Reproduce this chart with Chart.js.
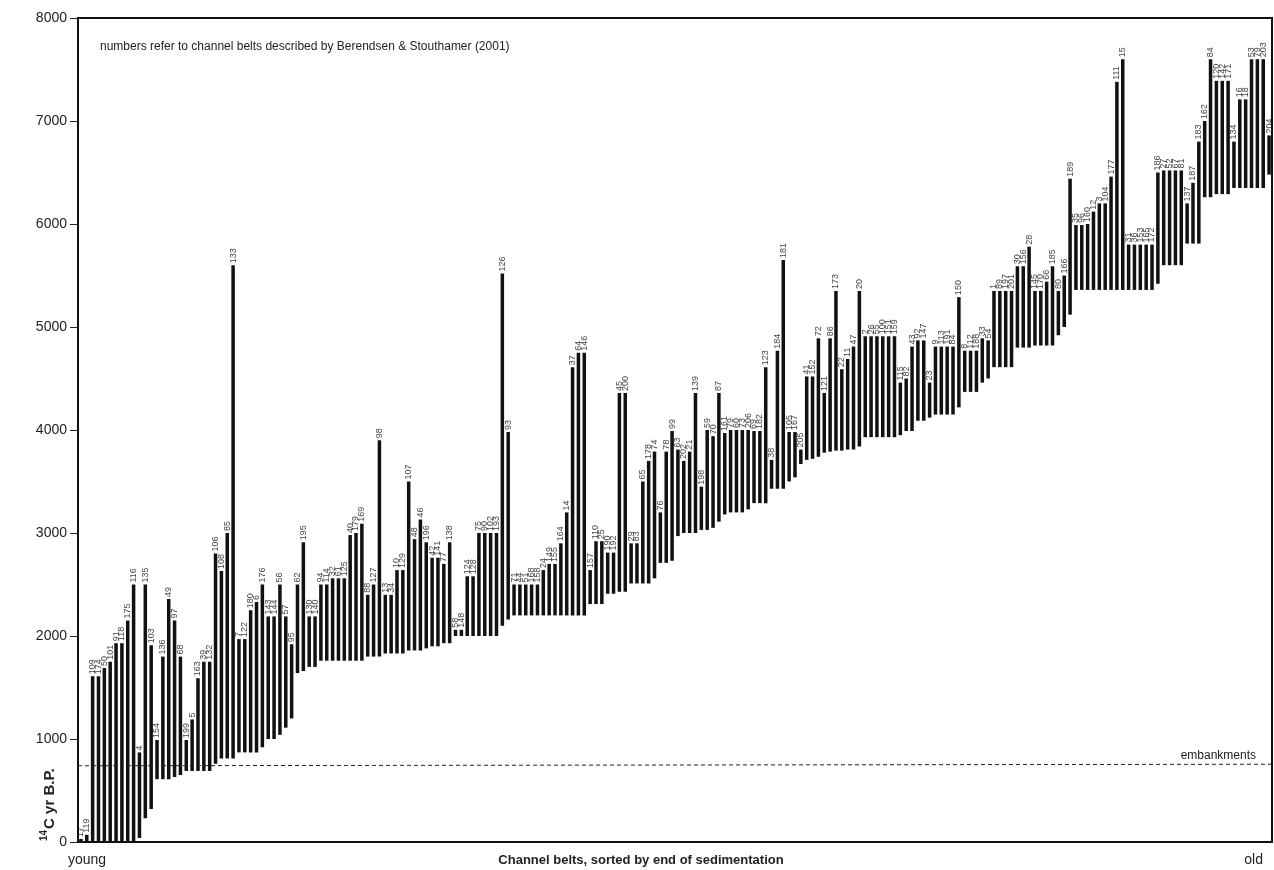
<!DOCTYPE html>
<html>
<head>
<meta charset="utf-8">
<title>Channel belts</title>
<script src="https://cdn.jsdelivr.net/npm/chart.js@4.4.1/dist/chart.umd.min.js"></script>
<style>
    html, body { margin: 0; padding: 0; background: #fff; }
    #wrap { width: 1274px; height: 870px; position: relative; }
</style>
</head>
<body>
<div id="wrap"><canvas id="beltChart" width="1274" height="870"></canvas></div>
<script>
// channel belt numbers, left (young) to right (old)
const beltLabels = [
    "17", "119", "109", "174", "50", "101", "91", "118", "175", "116",
    "4", "135", "103", "154", "136", "49", "97", "68", "199", "5",
    "163", "39", "132", "106", "108", "85", "133", "7", "122", "180",
    "6", "176", "143", "144", "56", "57", "95", "62", "195", "130",
    "140", "94", "114", "32", "61", "125", "40", "179", "169", "88",
    "127", "98", "13", "34", "10", "129", "107", "48", "46", "196",
    "42", "141", "77", "138", "58", "148", "124", "128", "75", "90",
    "102", "193", "126", "93", "71", "44", "51", "168", "158", "24",
    "149", "155", "164", "14", "37", "64", "146", "157", "110", "25",
    "190", "192", "45", "200", "29", "83", "65", "178", "74", "76",
    "78", "99", "63", "202", "21", "139", "198", "59", "70", "87",
    "161", "79", "60", "73", "206", "69", "182", "123", "38", "184",
    "181", "105", "167", "205", "41", "152", "72", "121", "86", "173",
    "22", "11", "47", "20", "2", "26", "55", "100", "151", "159",
    "115", "82", "43", "92", "147", "23", "9", "113", "191", "84",
    "150", "8", "112", "188", "33", "54", "1", "89", "197", "201",
    "30", "156", "28", "145", "170", "66", "185", "80", "166", "189",
    "35", "96", "160", "12", "3", "104", "177", "111", "15", "31",
    "36", "153", "165", "172", "186", "27", "52", "67", "81", "137",
    "187", "183", "162", "84", "120", "142", "171", "134", "16", "18",
    "53", "79", "203", "204"
];

// start of sedimentation (14C yr B.P., young end of bar)
const beltLow = [
    0, 0, 0, 0, 0, 0, 0, 0, 0, 0,
    40, 230, 320, 610, 610, 610, 630, 650, 690, 690,
    690, 690, 690, 760, 810, 810, 810, 870, 870, 870,
    870, 920, 1000, 1000, 1040, 1110, 1200, 1640, 1660, 1700,
    1700, 1760, 1760, 1760, 1760, 1760, 1760, 1760, 1760, 1800,
    1800, 1800, 1830, 1830, 1830, 1830, 1860, 1860, 1860, 1880,
    1900, 1900, 1930, 1930, 2000, 2000, 2000, 2000, 2000, 2000,
    2000, 2000, 2100, 2160, 2200, 2200, 2200, 2200, 2200, 2200,
    2200, 2200, 2200, 2200, 2200, 2200, 2200, 2310, 2310, 2310,
    2410, 2410, 2430, 2430, 2510, 2510, 2510, 2510, 2560, 2710,
    2710, 2730, 2970, 3000, 3000, 3000, 3030, 3030, 3050, 3110,
    3180, 3200, 3200, 3200, 3230, 3290, 3290, 3290, 3430, 3430,
    3430, 3500, 3540, 3670, 3710, 3720, 3740, 3780, 3790, 3800,
    3800, 3810, 3810, 3840, 3930, 3930, 3930, 3930, 3930, 3930,
    3950, 3990, 3990, 4090, 4090, 4120, 4150, 4150, 4150, 4150,
    4220, 4370, 4370, 4370, 4460, 4500, 4610, 4610, 4610, 4610,
    4800, 4800, 4800, 4820, 4820, 4820, 4820, 4920, 5000, 5120,
    5360, 5360, 5360, 5360, 5360, 5360, 5360, 5360, 5360, 5360,
    5360, 5360, 5360, 5360, 5420, 5600, 5600, 5600, 5600, 5810,
    5810, 5810, 6260, 6260, 6290, 6290, 6290, 6350, 6350, 6350,
    6350, 6350, 6350, 6480
];

// end of sedimentation (14C yr B.P., old end of bar)
const beltHigh = [
    30, 70, 1610, 1610, 1690, 1750, 1930, 1930, 2150, 2500,
    870, 2500, 1910, 990, 1800, 2360, 2150, 1800, 990, 1190,
    1590, 1750, 1750, 2800, 2630, 3000, 5600, 1970, 1970, 2250,
    2330, 2500, 2190, 2190, 2500, 2190, 1920, 2500, 2910, 2190,
    2190, 2500, 2500, 2560, 2560, 2560, 2980, 3000, 3090, 2400,
    2500, 3900, 2400, 2400, 2640, 2640, 3500, 2940, 3130, 2910,
    2760, 2760, 2700, 2910, 2060, 2060, 2580, 2580, 3000, 3000,
    3000, 3000, 5520, 3980, 2500, 2500, 2500, 2500, 2500, 2640,
    2700, 2700, 2900, 3200, 4610, 4750, 4750, 2640, 2920, 2920,
    2810, 2810, 4360, 4360, 2900, 2900, 3500, 3700, 3790, 3200,
    3790, 3990, 3810, 3700, 3790, 4360, 3450, 4000, 3940, 4360,
    3970, 4000, 4000, 4000, 4000, 3990, 3990, 4610, 3710, 4770,
    5650, 3980, 3980, 3810, 4520, 4520, 4890, 4360, 4890, 5350,
    4590, 4690, 4810, 5350, 4910, 4910, 4910, 4910, 4910, 4910,
    4460, 4500, 4810, 4870, 4870, 4460, 4810, 4810, 4810, 4810,
    5290, 4770, 4770, 4770, 4890, 4870, 5350, 5350, 5350, 5350,
    5590, 5590, 5780, 5350, 5350, 5440, 5590, 5350, 5500, 6440,
    5990, 5990, 6000, 6120, 6200, 6200, 6460, 7380, 7600, 5800,
    5800, 5800, 5800, 5800, 6500, 6520, 6520, 6520, 6520, 6200,
    6400, 6800, 7000, 7600, 7390, 7390, 7390, 6800, 7210, 7210,
    7600, 7600, 7600, 6860
];

const yTicks = [0, 1000, 2000, 3000, 4000, 5000, 6000, 7000, 8000];
const embankLevel = [740, 755]; // dashed line, left end / right end

const fontFamily = '"Liberation Sans", Arial, Helvetica, sans-serif';

const beltRanges = beltLow.map((lo, i) => [lo, beltHigh[i]]);

// belt numbers written upward above each bar
const barNumbers = {
    id: 'barNumbers',
    afterDatasetsDraw(chart) {
        const ctx = chart.ctx;
        const meta = chart.getDatasetMeta(0);
        ctx.save();
        ctx.fillStyle = '#444';
        ctx.font = '9px ' + fontFamily;
        ctx.textAlign = 'left';
        ctx.textBaseline = 'middle';
        meta.data.forEach((bar, i) => {
            ctx.save();
            ctx.translate(bar.x, bar.y - 2);
            ctx.rotate(-Math.PI / 2);
            ctx.fillText(beltLabels[i], 0, 0);
            ctx.restore();
        });
        ctx.restore();
    }
};

const frameAndNotes = {
    id: 'frameAndNotes',
    afterDraw(chart) {
        const ctx = chart.ctx;
        const area = chart.chartArea;
        const y = chart.scales.y;
        ctx.save();

        // embankments line
        ctx.strokeStyle = '#222';
        ctx.lineWidth = 1;
        ctx.setLineDash([4, 3]);
        ctx.beginPath();
        ctx.moveTo(area.left, y.getPixelForValue(embankLevel[0]));
        ctx.lineTo(area.right, y.getPixelForValue(embankLevel[1]));
        ctx.stroke();
        ctx.setLineDash([]);

        // frame
        ctx.lineWidth = 2;
        ctx.strokeStyle = '#111';
        ctx.strokeRect(area.left, area.top, area.right - area.left, area.bottom - area.top);

        ctx.fillStyle = '#222';
        ctx.font = '12px ' + fontFamily;
        ctx.textBaseline = 'middle';
        ctx.textAlign = 'left';
        ctx.fillText('numbers refer to channel belts described by Berendsen & Stouthamer (2001)', area.left + 22, 47);
        ctx.textAlign = 'right';
        ctx.fillText('embankments', area.right - 16, y.getPixelForValue(embankLevel[1]) - 9);

        // bottom texts
        ctx.font = '14px ' + fontFamily;
        ctx.textAlign = 'left';
        ctx.fillText('young', 68, 860);
        ctx.textAlign = 'right';
        ctx.fillText('old', 1263, 860);
        ctx.textAlign = 'center';
        ctx.font = 'bold 13px ' + fontFamily;
        ctx.fillText('Channel belts, sorted by end of sedimentation', 641, 860);

        // y title with superscript 14
        ctx.translate(54, 841);
        ctx.rotate(-Math.PI / 2);
        ctx.textAlign = 'left';
        ctx.textBaseline = 'alphabetic';
        ctx.font = 'bold 10px ' + fontFamily;
        ctx.fillText('14', 0, -7);
        const w = ctx.measureText('14').width;
        ctx.font = 'bold 15px ' + fontFamily;
        ctx.fillText('C yr B.P.', w + 1, 0);
        ctx.restore();
    }
};

new Chart(document.getElementById('beltChart').getContext('2d'), {
    type: 'bar',
    data: {
        labels: beltLabels,
        datasets: [{
            label: 'Channel belts',
            data: beltRanges,
            backgroundColor: '#111',
            borderWidth: 0,
            barPercentage: 0.6,
            categoryPercentage: 1.0
        }]
    },
    options: {
        responsive: false,
        animation: false,
        layout: { padding: { top: 18, right: 2, bottom: 28, left: 0 } },
        plugins: {
            legend: { display: false },
            tooltip: { enabled: false }
        },
        scales: {
            x: { display: false, offset: true },
            y: {
                min: 0,
                max: 8000,
                afterBuildTicks: (scale) => { scale.ticks = yTicks.map(v => ({ value: v })); },
                afterFit: (scale) => { scale.width = 78; },
                ticks: {
                    color: '#222',
                    padding: 3,
                    font: { family: fontFamily, size: 14 },
                    callback: (value) => String(value)
                },
                grid: {
                    drawOnChartArea: false,
                    drawTicks: true,
                    tickLength: 8,
                    color: '#222'
                },
                border: { display: false }
            }
        }
    },
    plugins: [barNumbers, frameAndNotes]
});
</script>
</body>
</html>
